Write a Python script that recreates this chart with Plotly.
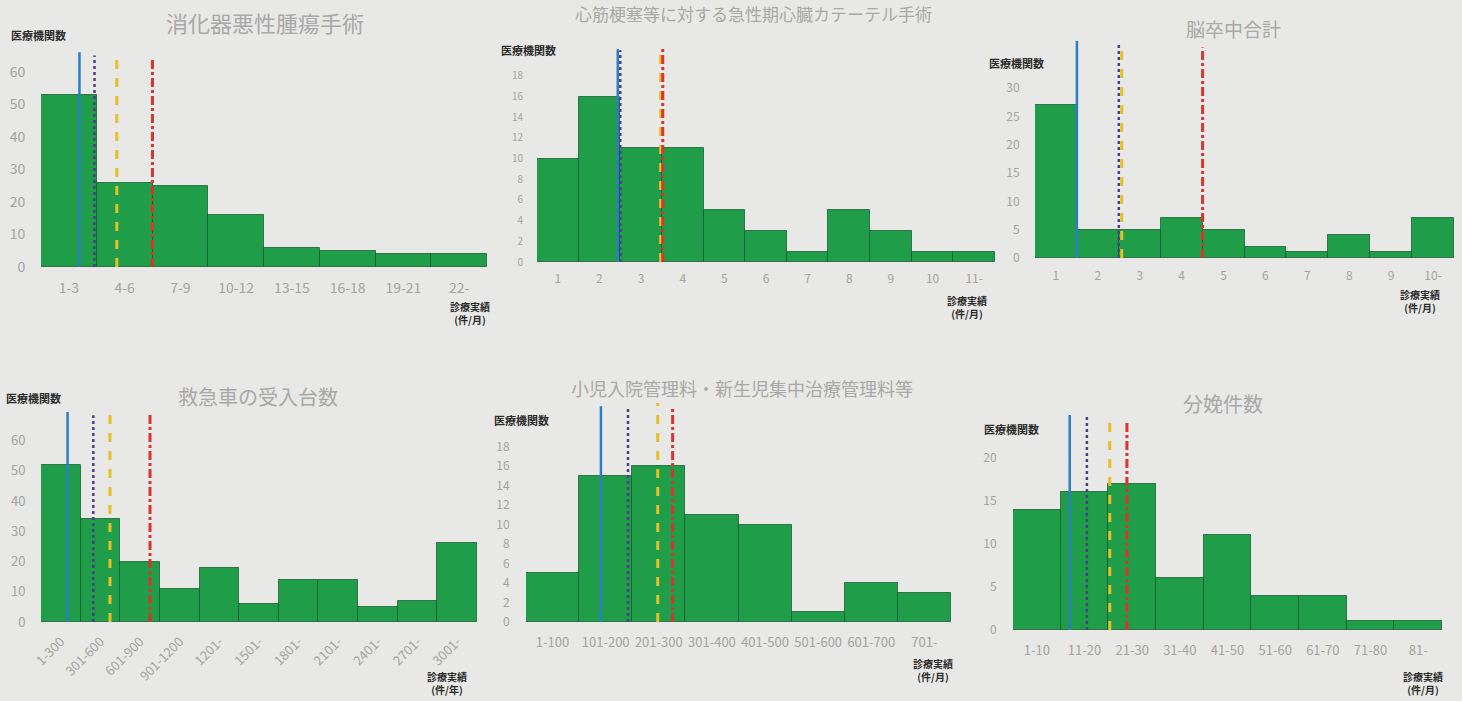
import plotly.graph_objects as go

W, H = 1462, 701

# ---- data -------------------------------------------------------------
p1_title = "消化器悪性腫瘍手術"
p1_cats = ["1-3", "4-6", "7-9", "10-12", "13-15", "16-18", "19-21", "22-"]
p1_counts = [53, 26, 25, 16, 6, 5, 4, 4]
p1_marks = [0.19, 0.46, 0.86, 1.5]
p1_yticks = [0, 10, 20, 30, 40, 50, 60]

p2_title = "心筋梗塞等に対する急性期心臓カテーテル手術"
p2_cats = ["1", "2", "3", "4", "5", "6", "7", "8", "9", "10", "11-"]
p2_counts = [10, 16, 11, 11, 5, 3, 1, 5, 3, 1, 1]
p2_marks = [1.44, 1.5, 2.47, 2.52]
p2_yticks = [0, 2, 4, 6, 8, 10, 12, 14, 16, 18]

p3_title = "脳卒中合計"
p3_cats = ["1", "2", "3", "4", "5", "6", "7", "8", "9", "10-"]
p3_counts = [27, 5, 5, 7, 5, 2, 1, 4, 1, 7]
p3_marks = [0.5, 1.5, 1.57, 3.5]
p3_yticks = [0, 5, 10, 15, 20, 25, 30]

p4_title = "救急車の受入台数"
p4_cats = ["1-300", "301-600", "601-900", "901-1200", "1201-", "1501-",
           "1801-", "2101-", "2401-", "2701-", "3001-"]
p4_counts = [52, 34, 20, 11, 18, 6, 14, 14, 5, 7, 26]
p4_marks = [0.17, 0.82, 1.24, 2.25]
p4_yticks = [0, 10, 20, 30, 40, 50, 60]

p5_title = "小児入院管理料・新生児集中治療管理料等"
p5_cats = ["1-100", "101-200", "201-300", "301-400", "401-500", "501-600",
           "601-700", "701-"]
p5_counts = [5, 15, 16, 11, 10, 1, 4, 3]
p5_marks = [0.91, 1.42, 1.98, 2.26]
p5_yticks = [0, 2, 4, 6, 8, 10, 12, 14, 16, 18]

p6_title = "分娩件数"
p6_cats = ["1-10", "11-20", "21-30", "31-40", "41-50", "51-60", "61-70",
           "71-80", "81-"]
p6_counts = [14, 16, 17, 6, 11, 4, 4, 1, 1]
p6_marks = [0.69, 1.05, 1.53, 1.89]
p6_yticks = [0, 5, 10, 15, 20]

y_label = "医療機関数"
x_label_month = "診療実績<br>(件/月)"
x_label_year = "診療実績<br>(件/年)"

# ---- styling ----------------------------------------------------------
FONT = "Noto Sans CJK JP"
BG = "#e8e8e6"
GREEN = "#1f9d48"
TICK_GRAY = "#a3a3a3"
TITLE_GRAY = "#a8a8a8"
MARK_STYLES = [
    dict(color="#2a7fc4", width=2.5, dash="solid"),
    dict(color="#4d3f86", width=2.5, dash="dot"),
    dict(color="#e6bf2a", width=3, dash="dash"),
    dict(color="#d8352c", width=3, dash="dashdot"),
]


def px_x(v):
    return v / W


def px_y(v):
    return 1 - v / H


# panel geometry in pixels: plot left/right, zero line, top
panels = [
    dict(title=p1_title, cats=p1_cats, counts=p1_counts, marks=p1_marks,
         yticks=p1_yticks, box=(41, 487, 267, 50), ymax=66.8, ysize=14,
         xsize=14, tops=[0.99, 0.975, 0.975, 0.965], xunit=x_label_month,
         title_xy=(265, 22), title_size=22, ylab_xy=(38, 35),
         unit_xy=(470, 313), angle=0, ylen=12, xlen=8),
    dict(title=p2_title, cats=p2_cats, counts=p2_counts, marks=p2_marks,
         yticks=p2_yticks, box=(537, 995, 262, 47), ymax=20.8, ysize=10,
         xsize=12, tops=[0.99, 0.985, 1.0, 1.0], xunit=x_label_month,
         title_xy=(753, 13), title_size=17, ylab_xy=(528, 50),
         unit_xy=(967, 307), angle=0, ylen=11, xlen=6),
    dict(title=p3_title, cats=p3_cats, counts=p3_counts, marks=p3_marks,
         yticks=p3_yticks, box=(1035, 1454, 258, 41), ymax=38.3, ysize=12,
         xsize=12, tops=[1.0, 0.99, 0.99, 0.97], xunit=x_label_month,
         title_xy=(1233, 28), title_size=19, ylab_xy=(1016, 63),
         unit_xy=(1420, 301), angle=0, ylen=12, xlen=7),
    dict(title=p4_title, cats=p4_cats, counts=p4_counts, marks=p4_marks,
         yticks=p4_yticks, box=(41, 477, 622, 412), ymax=69.5, ysize=13,
         xsize=13, tops=[1.0, 0.985, 1.0, 1.0], xunit=x_label_year,
         title_xy=(258, 396), title_size=20, ylab_xy=(33, 398),
         unit_xy=(447, 683), angle=-45, ylen=12, xlen=6),
    dict(title=p5_title, cats=p5_cats, counts=p5_counts, marks=p5_marks,
         yticks=p5_yticks, box=(526, 951, 622, 403), ymax=22.5, ysize=12,
         xsize=13, tops=[0.985, 0.98, 1.0, 0.975], xunit=x_label_month,
         title_xy=(742, 388), title_size=18, ylab_xy=(521, 420),
         unit_xy=(933, 670), angle=0, ylen=13, xlen=8),
    dict(title=p6_title, cats=p6_cats, counts=p6_counts, marks=p6_marks,
         yticks=p6_yticks, box=(1013, 1442, 630, 415), ymax=25, ysize=12,
         xsize=13, tops=[1.0, 1.0, 1.0, 0.965], xunit=x_label_month,
         title_xy=(1223, 403), title_size=20, ylab_xy=(1011, 429),
         unit_xy=(1423, 683), angle=0, ylen=13, xlen=8),
]

fig = go.Figure()
layout = dict(
    width=W, height=H,
    margin=dict(l=0, r=0, t=0, b=0, autoexpand=False),
    paper_bgcolor=BG, plot_bgcolor="rgba(0,0,0,0)",
    showlegend=False, font=dict(family=FONT, color=TICK_GRAY),
    bargap=0,
)
shapes, annotations = [], []

for i, p in enumerate(panels, start=1):
    sfx = "" if i == 1 else str(i)
    xa, ya = "xaxis" + sfx, "yaxis" + sfx
    xr, yr = "x" + sfx, "y" + sfx
    left, right, zero, top = p["box"]
    n = len(p["cats"])
    idx = list(range(n))

    fig.add_trace(go.Bar(
        x=idx, y=p["counts"], xaxis=xr, yaxis=yr, width=1.0,
        marker=dict(color=GREEN, line=dict(color="rgba(20,90,45,0.75)", width=1)),
        hoverinfo="x+y",
    ))

    layout[xa] = dict(
        domain=[px_x(left), px_x(right)], anchor=yr, automargin=False,
        range=[-0.5, n - 0.5], tickmode="array", tickvals=idx,
        ticktext=p["cats"], tickangle=p["angle"], showgrid=False,
        zeroline=False, showline=False, ticks="outside", ticklen=p["xlen"],
        tickcolor="rgba(0,0,0,0)",
        tickfont=dict(size=p["xsize"], color=TICK_GRAY, family=FONT),
    )
    layout[ya] = dict(
        domain=[px_y(zero), px_y(top)], anchor=xr, automargin=False,
        range=[0, p["ymax"]], tickmode="array", tickvals=p["yticks"],
        showgrid=False, zeroline=False, showline=False, ticks="outside",
        ticklen=p["ylen"], tickcolor="rgba(0,0,0,0)",
        tickfont=dict(size=p["ysize"], color=TICK_GRAY, family=FONT),
    )

    # reference lines drawn over the bars
    for pos, style, ytop in zip(p["marks"], MARK_STYLES, p["tops"]):
        shapes.append(dict(
            type="line", xref=xr, yref=yr + " domain",
            x0=pos, x1=pos, y0=0, y1=ytop, line=style, layer="above",
        ))

    tx, ty = p["title_xy"]
    annotations.append(dict(
        text=p["title"], xref="paper", yref="paper",
        x=px_x(tx), y=px_y(ty), showarrow=False,
        xanchor="center", yanchor="middle",
        font=dict(size=p["title_size"], color=TITLE_GRAY, family=FONT),
    ))
    lx, ly = p["ylab_xy"]
    annotations.append(dict(
        text="<b>" + y_label + "</b>", xref="paper", yref="paper",
        x=px_x(lx), y=px_y(ly), showarrow=False,
        xanchor="center", yanchor="middle",
        font=dict(size=11, color="#2b2b2b", family=FONT),
    ))
    ux, uy = p["unit_xy"]
    annotations.append(dict(
        text="<b>" + p["xunit"] + "</b>", xref="paper", yref="paper",
        x=px_x(ux), y=px_y(uy), showarrow=False,
        xanchor="center", yanchor="middle", align="center",
        font=dict(size=10, color="#2b2b2b", family=FONT),
    ))

layout["shapes"] = shapes
layout["annotations"] = annotations
fig.update_layout(**layout)
fig.write_html("out.html")
